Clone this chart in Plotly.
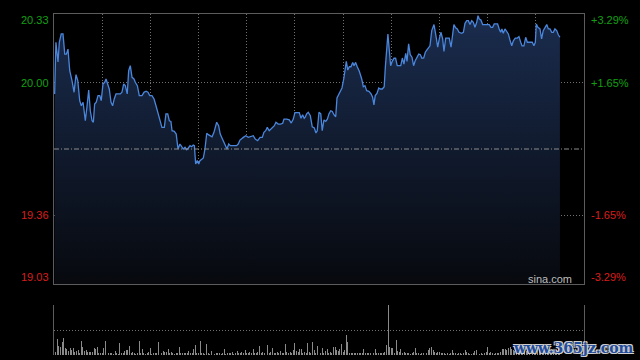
import plotly.graph_objects as go

# ---------------- data ----------------
prev_close = 19.68
price_ticks = [20.33, 20.00, 19.36, 19.03]
price_tick_labels = ["20.33", "20.00", "19.36", "19.03"]
pct_tick_labels = ["+3.29%", "+1.65%", "-1.65%", "-3.29%"]
session_minutes = 330  # 09:30-12:00 + 13:00-16:00

# minutes since the open
minutes = [
    0.4, 1.2, 2.5, 3.3, 4.5, 5.6, 6.7, 7.7, 8.7, 9.8,
    11.2, 12.5, 13.7, 14.8, 16.0, 17.0, 18.1, 19.5, 20.5, 21.6,
    22.6, 23.7, 24.5, 25.3, 26.3, 27.4, 28.5, 29.4, 30.5, 31.6,
    32.4, 33.2, 34.4, 35.5, 36.5, 37.5, 38.6, 39.8, 41.3, 42.3,
    43.4, 44.4, 45.6, 46.5, 47.5, 48.6, 49.8, 50.6, 51.9, 53.1,
    54.8, 56.0, 57.3, 58.5, 59.6, 61.0, 62.3, 63.5, 64.7, 66.2,
    67.2, 68.7, 69.7, 70.8, 71.8, 72.8, 73.5, 74.9, 76.1, 77.2,
    78.4, 79.5, 80.5, 81.6, 82.6, 83.6, 84.7, 85.7, 86.7, 87.4,
    88.2, 89.2, 90.1, 90.9, 92.0, 93.0, 94.0, 95.1, 96.1, 97.1,
    98.4, 99.6, 101.3, 102.5, 103.5, 104.6, 105.7, 106.7, 107.7, 108.8,
    109.8, 111.6, 113.7, 114.7, 115.8, 117.9, 119.4, 121.0, 122.5, 124.1,
    125.3, 126.8, 128.3, 129.7, 130.7, 131.8, 132.8, 134.0, 135.1, 136.2,
    137.2, 138.2, 139.6, 141.1, 142.4, 143.2, 144.9, 146.5, 147.7, 149.0,
    150.0, 151.5, 152.7, 153.8, 154.8, 155.8,
    156.4, 157.3, 158.3, 159.6, 160.8, 162.1, 163.1, 163.9, 165.0, 166.1,
    167.0, 168.1, 169.2, 170.2, 171.2, 172.3, 173.3, 174.3, 175.4, 176.2,
    177.3, 178.3, 179.3, 180.4, 181.2, 182.0, 182.9, 183.9, 184.9, 186.0,
    186.8, 187.8, 188.8, 190.1, 191.6, 192.6, 193.6, 194.7, 196.1, 197.4,
    198.4, 199.2, 200.0, 201.1, 202.2, 203.2, 204.4, 205.6, 206.3, 207.1,
    207.9, 208.8, 209.6, 210.6, 211.7, 212.7, 213.7, 214.8, 215.9, 216.9,
    217.9, 219.0, 219.8, 220.8, 221.8, 222.9, 223.9, 224.9, 226.0, 227.1,
    228.1, 229.1, 230.2, 231.2, 232.2, 233.5,
    234.1, 235.2, 236.6, 237.8, 238.9, 239.9, 240.9, 242.0, 242.8, 243.9,
    245.1, 246.1, 247.2, 248.2, 249.0, 250.1, 251.1, 252.2, 253.8, 254.9,
    255.9, 257.0, 258.0, 259.0, 260.1, 261.1, 262.1, 263.2, 264.0, 264.8,
    265.8, 266.9, 268.3, 269.8, 271.0, 272.1, 273.1, 274.1, 275.2, 276.2,
    277.2, 278.1, 278.9, 279.7, 280.8, 281.9, 282.9, 283.9, 285.0, 286.0,
    287.2, 288.5, 289.5, 290.6, 291.4, 292.6, 293.7, 294.7, 295.7, 296.8,
    297.8, 298.8, 299.7, 300.3, 301.3, 302.6, 303.6, 304.6, 305.7, 306.8,
    307.8, 308.8, 309.9, 310.9, 311.9, 313.0, 314.0, 315.0,
]

prices = [
    19.945, 20.194, 20.099, 20.194, 20.234, 20.234, 20.137, 20.137, 20.161, 20.057,
    20.009, 19.953, 20.038, 20.009, 19.913, 19.888, 19.905, 19.816, 19.881, 19.964,
    19.864, 19.816, 19.809, 19.897, 19.905, 19.937, 19.937, 19.913, 19.993, 20.001,
    20.017, 19.993, 19.969, 19.905, 19.888, 19.921, 19.945, 19.945, 19.945, 19.953,
    19.993, 19.985, 19.945, 20.057, 20.081, 20.025, 20.017, 20.001, 19.985, 19.937,
    19.937, 19.953, 19.958, 19.953, 19.937, 19.937, 19.921, 19.888, 19.857, 19.816,
    19.784, 19.784, 19.849, 19.849, 19.816, 19.813, 19.768, 19.765, 19.752, 19.680,
    19.704, 19.691, 19.680, 19.688, 19.677, 19.685, 19.696, 19.691, 19.699, 19.696,
    19.608, 19.624, 19.608, 19.624, 19.632, 19.637, 19.680, 19.756, 19.749, 19.744,
    19.739, 19.760, 19.809, 19.792, 19.752, 19.733, 19.712, 19.696, 19.680, 19.704,
    19.696, 19.696, 19.696, 19.704, 19.723, 19.736, 19.744, 19.736, 19.739, 19.744,
    19.728, 19.720, 19.736, 19.736, 19.760, 19.768, 19.784, 19.768, 19.776, 19.787,
    19.792, 19.809, 19.800, 19.800, 19.804, 19.824, 19.824, 19.820, 19.805, 19.824,
    19.855, 19.855, 19.855, 19.828, 19.845, 19.828,
    19.833, 19.849, 19.857, 19.840, 19.787, 19.781, 19.757, 19.768, 19.857, 19.849,
    19.768, 19.820, 19.813, 19.824, 19.849, 19.864, 19.861, 19.845, 19.835, 19.926,
    19.941, 19.958, 19.974, 20.017, 20.057, 20.102, 20.060, 20.076, 20.076, 20.097,
    20.081, 20.097, 20.076, 20.054, 20.017, 19.980, 19.985, 19.961, 19.958, 19.945,
    19.929, 19.892, 19.937, 19.948, 19.974, 19.969, 19.969, 19.980, 20.073, 20.186,
    20.234, 20.153, 20.081, 20.102, 20.117, 20.117, 20.081, 20.081, 20.081, 20.118,
    20.089, 20.141, 20.102, 20.186, 20.134, 20.122, 20.081, 20.105, 20.124, 20.137,
    20.134, 20.117, 20.118, 20.146, 20.157, 20.170,
    20.177, 20.250, 20.279, 20.226, 20.170, 20.210, 20.242, 20.210, 20.150, 20.214,
    20.214, 20.214, 20.170, 20.242, 20.279, 20.263, 20.258, 20.242, 20.237, 20.242,
    20.285, 20.298, 20.298, 20.279, 20.298, 20.290, 20.266, 20.290, 20.322, 20.306,
    20.301, 20.279, 20.279, 20.279, 20.279, 20.266, 20.266, 20.282, 20.282, 20.282,
    20.258, 20.242, 20.258, 20.237, 20.258, 20.242, 20.234, 20.205, 20.177, 20.201,
    20.214, 20.214, 20.221, 20.194, 20.177, 20.177, 20.218, 20.194, 20.194, 20.194,
    20.194, 20.177, 20.194, 20.282, 20.266, 20.258, 20.210, 20.250, 20.266, 20.279,
    20.258, 20.258, 20.242, 20.242, 20.258, 20.250, 20.230, 20.218,
]

# per-minute volume (relative units, panel top = 50)
volumes = [
    5, 3, 16, 9, 8, 13, 17, 7, 6, 4,
    7, 5, 7, 3, 4, 5, 2, 14, 8, 4,
    5, 3, 3, 3, 3, 7, 6, 8, 2, 2,
    2, 7, 14, 4, 2, 2, 2, 1, 4, 2,
    1, 12, 2, 2, 4, 5, 5, 9, 2, 3,
    2, 1, 2, 14, 2, 6, 2, 1, 2, 3,
    7, 1, 2, 2, 2, 13, 2, 2, 4, 3,
    3, 6, 2, 3, 2, 1, 2, 2, 8, 2,
    2, 2, 2, 2, 4, 2, 2, 6, 10, 2,
    2, 14, 2, 2, 1, 11, 2, 1, 4, 2,
    1, 2, 2, 2, 1, 2, 6, 1, 2, 2,
    2, 3, 1, 2, 4, 2, 2, 3, 2, 5,
    2, 2, 3, 2, 6, 2, 2, 3, 9, 2,
    3, 2, 4, 10, 2, 3, 7, 2, 2, 3,
    2, 4, 2, 2, 11, 3, 2, 3, 2, 5,
    12, 4, 3, 6, 6, 2, 3, 2, 12, 3,
    2, 13, 5, 2, 9, 3, 2, 7, 2, 4,
    6, 2, 3, 2, 8, 8, 5, 4, 6, 11,
    3, 5, 20, 13, 2, 2, 2, 2, 2, 2,
    2, 2, 2, 6, 2, 2, 2, 2, 14, 2,
    6, 2, 2, 2, 2, 2, 3, 10, 50, 8,
    7, 7, 2, 15, 4, 3, 6, 2, 3, 2,
    2, 2, 1, 2, 3, 7, 2, 2, 1, 2,
    2, 3, 2, 5, 7, 8, 5, 3, 2, 3,
    3, 2, 2, 2, 1, 2, 1, 2, 5, 2,
    2, 1, 2, 2, 1, 2, 5, 3, 2, 1,
    1, 2, 4, 5, 3, 1, 2, 1, 2, 3,
    8, 2, 3, 2, 1, 2, 2, 2, 3, 6,
    6, 6, 5, 7, 8, 6, 5, 4, 3, 3,
    4, 2, 5, 3, 4, 6, 3, 2, 4, 3,
    5, 7, 4, 3, 2, 4, 5, 3, 2, 4,
    6, 3, 4, 5, 8, 10,
]
volume_minutes = list(range(len(volumes)))
volume_max = 50

# ---------------- styling ----------------
GREEN = "#12a012"
RED = "#dc1c1c"
GRID = "#707070"
BORDER = "#5c5c5c"
FONT = "Liberation Sans, Arial, sans-serif"

fig = go.Figure()

fig.add_trace(go.Scatter(
    x=minutes, y=prices, mode="lines",
    line=dict(color="#4a86dc", width=1.3),
    fill="tozeroy",
    fillgradient=dict(type="vertical",
                      colorscale=[[0, "#07090e"], [1, "#1a2c4e"]],
                      start=price_ticks[-1], stop=price_ticks[0]),
    hoverinfo="skip", xaxis="x", yaxis="y",
))

fig.add_trace(go.Bar(
    x=volume_minutes, y=volumes, width=0.6,
    marker=dict(color="#8a8a8a", line=dict(width=0)),
    hoverinfo="skip", xaxis="x2", yaxis="y2",
))

# previous close reference line
fig.add_shape(type="line", xref="x", yref="y",
              x0=0, x1=session_minutes, y0=prev_close, y1=prev_close,
              line=dict(color="#8c8c8c", width=1, dash="5px,2px,1px,2px"))

main_bottom = 71 / 341
vol_top = 50 / 341

common_axis = dict(showticklabels=False, zeroline=False, ticks="")

fig.update_layout(
    width=640, height=360,
    margin=dict(l=54, r=56, t=14, b=5),
    paper_bgcolor="#000000", plot_bgcolor="#000000",
    showlegend=False, hovermode=False, bargap=0,
    xaxis=dict(domain=[0, 1], range=[0, session_minutes], anchor="y",
               tick0=0, dtick=30, showgrid=True, gridcolor=GRID, griddash="1px,2px",
               gridwidth=1, showline=True, mirror=True, linecolor=BORDER, linewidth=1,
               **common_axis),
    yaxis=dict(domain=[main_bottom, 1], range=[price_ticks[-1], price_ticks[0]], anchor="x",
               tickvals=price_ticks[1:3], showgrid=True, gridcolor=GRID, griddash="1px,2px",
               showline=True, mirror=True, linecolor=BORDER, linewidth=1,
               **common_axis),
    xaxis2=dict(domain=[0, 1], range=[0, session_minutes], anchor="y2",
                showgrid=False, showline=False, **common_axis),
    yaxis2=dict(domain=[0, vol_top], range=[0, volume_max], anchor="x2",
                tickvals=[0, volume_max / 2, volume_max], showgrid=True, gridcolor=GRID,
                griddash="1px,2px", showline=True, mirror=True, linecolor=BORDER,
                linewidth=1, **common_axis),
)

# price / percent labels
shifts = [-6, 0, 0, 7]
for val, lab, pct, ys in zip(price_ticks, price_tick_labels, pct_tick_labels, shifts):
    col = GREEN if val > prev_close else RED
    fig.add_annotation(x=0, xref="paper", y=val, yref="y", text=lab, showarrow=False,
                       xanchor="right", yanchor="middle", xshift=-3, yshift=ys,
                       font=dict(family=FONT, size=11, color=col))
    fig.add_annotation(x=1, xref="paper", y=val, yref="y", text=pct, showarrow=False,
                       xanchor="left", yanchor="middle", xshift=5, yshift=ys,
                       font=dict(family=FONT, size=11, color=col))

fig.add_annotation(x=1, xref="paper", y=price_ticks[-1], yref="y", text="sina.com",
                   showarrow=False, xanchor="right", yanchor="middle", xshift=-10, yshift=5,
                   font=dict(family=FONT, size=11, color="#bdbdbd"))

fig.add_annotation(x=1, xref="paper", y=0, yref="paper", text="<b>www.365jz.com</b>",
                   showarrow=False, xanchor="right", yanchor="bottom", xshift=52, yshift=-3,
                   font=dict(family="DejaVu Serif, serif", size=14, color="#1f4c9c",
                             shadow="1px 1px 0 #cfcfcf, -1px -1px 0 #cfcfcf, 1px -1px 0 #cfcfcf, -1px 1px 0 #cfcfcf"))

fig.write_html("out.html",
               config={"displayModeBar": False, "staticPlot": True},
               post_script="document.body.style.margin='0';document.body.style.overflow='hidden';")
